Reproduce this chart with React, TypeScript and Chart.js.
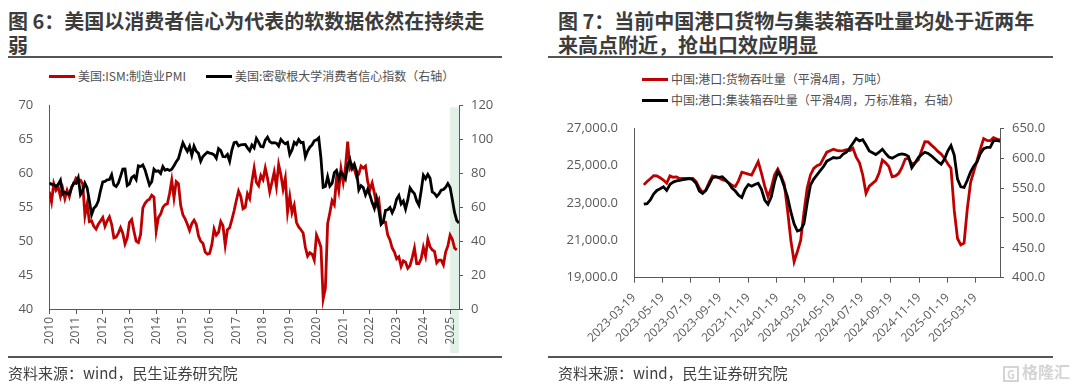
import React, { useEffect, useRef } from 'react';
import { Chart, registerables } from 'chart.js';
Chart.register(...registerables);

// ---------- Left chart data (monthly, from 2010-01) ----------
const pmiStartYear = 2010;
const pmi = [
  57.3, 55.8, 58.5, 57.5, 58.0, 56.6, 57.8, 56.3, 57.5, 56.6, 58.0, 58.5,
  59.3, 59.0, 59.0, 58.5, 53.8, 55.5, 52.9, 53.0, 52.2, 51.8, 52.5, 53.0,
  53.5, 52.2, 53.0, 53.6, 52.5, 50.5, 50.6, 51.2, 52.0, 51.2, 49.6, 50.5,
  52.8, 53.2, 51.5, 50.0, 49.8, 51.0, 54.9, 55.6, 56.0, 56.2, 56.8, 56.5,
  51.5, 53.5, 54.0, 55.0, 55.4, 55.5, 57.0, 59.0, 56.4, 58.8, 58.5, 55.3,
  53.9, 53.3, 52.5, 51.6, 52.6, 53.1, 52.5, 50.8, 50.0, 49.7, 48.4, 48.1,
  48.2, 49.5, 51.8, 50.9, 51.3, 52.9, 52.3, 49.4, 51.7, 52.0, 53.2, 54.5,
  56.0, 57.4, 56.6, 54.8, 55.0, 57.0, 56.3, 58.8, 60.8, 58.7, 58.2, 59.7,
  59.1, 60.8, 59.3, 57.3, 58.7, 60.2, 58.1, 61.3, 59.8, 57.7, 59.3, 54.3,
  56.6, 54.2, 55.3, 52.8, 52.1, 51.7, 51.2, 49.1, 47.8, 48.3, 48.1, 47.2,
  50.9, 50.1, 49.1, 41.5, 43.1, 52.6, 54.2, 56.0, 55.4, 59.3, 57.5, 60.7,
  58.7, 60.8, 64.7, 60.7, 61.2, 60.6, 59.5, 59.9, 61.1, 60.8, 61.1, 58.8,
  57.6, 58.6, 57.1, 55.4, 56.1, 53.0, 52.8, 52.8, 50.9, 50.2, 49.0, 48.4,
  47.4, 47.7, 46.3, 47.1, 46.9, 46.0, 46.4, 47.6, 49.0, 46.7, 46.7, 47.4,
  49.1, 47.8, 50.3, 49.2, 48.7, 48.5, 46.8, 47.2, 47.2, 46.5, 48.4, 49.3,
  50.9, 50.3, 49.0, 48.7,
];
const sentiment = [
  74.4, 73.6, 73.6, 72.2, 73.6, 76.0, 67.8, 68.9, 68.2, 67.7, 71.6, 74.5,
  74.2, 77.5, 67.5, 69.8, 74.3, 71.5, 63.7, 55.7, 59.4, 60.8, 63.7, 69.9,
  75.0, 75.3, 76.2, 76.4, 79.3, 73.2, 72.3, 74.3, 78.3, 82.6, 82.7, 72.9,
  73.8, 77.6, 78.6, 76.4, 84.5, 84.1, 85.1, 82.1, 77.5, 73.2, 75.1, 82.5,
  81.2, 81.6, 80.0, 84.1, 81.9, 82.5, 81.8, 82.5, 84.6, 86.9, 88.8, 93.6,
  98.1, 95.4, 93.0, 95.9, 90.7, 96.1, 93.1, 91.9, 87.2, 90.0, 91.3, 92.6,
  92.0, 91.7, 91.0, 89.0, 94.7, 93.5, 90.0, 89.8, 91.2, 87.2, 93.8, 98.2,
  98.5, 96.3, 96.9, 97.0, 97.1, 95.1, 93.4, 96.8, 95.1, 100.7, 98.5, 95.9,
  95.7, 99.7, 101.4, 98.8, 98.0, 98.2, 97.9, 96.2, 100.1, 98.6, 97.5, 98.3,
  91.2, 93.8, 98.4, 97.2, 100.0, 98.2, 98.4, 89.8, 93.2, 95.5, 96.8, 99.3,
  99.8, 101.0, 89.1, 71.8, 72.3, 78.1, 72.5, 74.1, 80.4, 81.8, 76.9, 80.7,
  79.0, 76.8, 84.9, 88.3, 82.9, 85.5, 81.2, 70.3, 72.8, 71.7, 67.4, 70.6,
  67.2, 62.8, 59.4, 65.2, 58.4, 50.0, 51.5, 58.2, 58.6, 59.9, 56.8, 59.7,
  64.9, 67.0, 62.0, 63.7, 59.0, 64.4, 71.5, 69.5, 68.1, 63.8, 61.3, 69.7,
  79.0, 76.9, 79.4, 77.2, 69.1, 68.2, 66.4, 67.9, 70.1, 70.5, 71.8, 74.0,
  71.7, 64.7, 57.0, 52.2, 50.8,
];
const yearLabels = ['2010', '2011', '2012', '2013', '2014', '2015', '2016', '2017', '2018', '2019', '2020', '2021', '2022', '2023', '2024', '2025'];
const highlightFromYear = 2025;

// ---------- Right chart data (weekly) ----------
const portTickDates = ['2023-03-19', '2023-05-19', '2023-07-19', '2023-09-19', '2023-11-19', '2024-01-19', '2024-03-19', '2024-05-19', '2024-07-19', '2024-09-19', '2024-11-19', '2025-01-19', '2025-03-19'];
const portFirstWeek = '2023-04-09';
const cargo = [
  23970, 24150, 24300, 24460, 24450, 24350, 24230, 24060, 24450, 24380,
  24400, 24300, 24320, 24320, 24320, 24320, 24150, 23800, 23560, 23700,
  24100, 24450, 24400, 24350, 24250, 24200, 24080, 23950, 23880, 24200,
  24650, 24600, 24550, 24500, 24850, 25210, 24600, 23900, 23340, 23800,
  24500, 24820, 24450, 24000, 22600, 21000, 19860, 20400, 21000, 22500,
  23800, 24500, 24850, 25000, 25070, 25400, 25720, 25800, 25880, 25820,
  25790, 25800, 25850, 25800, 25930, 25450, 25150, 24500, 23520, 23900,
  24050, 24200, 24600, 25300, 25150, 24950, 24400, 24450, 24580, 24900,
  25350, 25400, 25100, 25150, 25300, 25800, 26280, 26270, 26100, 25950,
  25760, 25620, 25400, 25100, 24860, 22600, 21100, 20760, 20850, 22700,
  24100, 24700, 25300, 25900, 26450, 26350, 26330, 26500, 26420, 26370,
];
const containers = [
  523, 524, 530, 540, 546, 549, 552, 546, 556, 560,
  562, 563, 564, 565, 566, 564, 558, 545, 541, 546,
  556, 567, 569, 568, 569, 564, 558, 550, 545, 538,
  534, 548, 556, 553, 556, 558, 548, 530, 523, 535,
  560, 578, 568, 552, 535, 510, 490, 478, 480, 490,
  525, 555, 565, 572, 579, 586, 595, 598, 601, 600,
  601, 607, 610, 617, 625, 633, 629, 631, 622, 612,
  609, 606, 610, 615, 608, 602, 600, 603, 606, 607,
  606, 603, 584, 592, 601, 606, 610, 608, 604, 599,
  594, 590, 598, 612, 621, 605, 565, 552, 551, 563,
  577, 587, 594, 608, 616, 618, 618, 629, 630, 628,
];

const RED = '#C00000';
const BLACK = '#000000';
const AXIS = '#595959';
const LABEL = '#595959';
const FONT = "'Open Sans', 'Noto Sans CJK SC', sans-serif";
const CJK = "'Noto Sans CJK SC', 'Open Sans', sans-serif";

const DAY = 86400000;
const weeksFrom = (a: string, b: string) => (Date.parse(b) - Date.parse(a)) / (7 * DAY);

const fixY = (w: number) => (s: any) => { s.width = w; s.paddingTop = 0; s.paddingBottom = 0; };
const fixX = (h: number) => (s: any) => { s.height = h; s.paddingLeft = 0; s.paddingRight = 0; };

function LeftChart() {
  const ref = useRef<HTMLCanvasElement>(null);
  useEffect(() => {
    const canvas = ref.current!;
    const bandPlugin = {
      id: 'band',
      beforeDraw(chart: any) {
        const { ctx, chartArea, scales } = chart;
        const x0 = scales.x.getPixelForValue(highlightFromYear);
        ctx.save();
        ctx.fillStyle = '#E2F1E7';
        ctx.fillRect(x0, chartArea.top + 1.5, chartArea.right - x0, 258 - chartArea.top - 1.5);
        ctx.restore();
      },
    };
    const xMax = pmiStartYear + (sentiment.length - 1) / 12;
    const chart = new Chart(canvas, {
      type: 'line',
      data: {
        datasets: [
          {
            label: '美国:ISM:制造业PMI',
            data: pmi.map((v, i) => ({ x: pmiStartYear + i / 12, y: v })),
            borderColor: RED,
            backgroundColor: RED,
            borderWidth: 2.8,
            pointRadius: 0,
            yAxisID: 'y',
            order: 1,
          },
          {
            label: '美国:密歇根大学消费者信心指数（右轴）',
            data: sentiment.map((v, i) => ({ x: pmiStartYear + i / 12, y: v })),
            borderColor: BLACK,
            backgroundColor: BLACK,
            borderWidth: 2.8,
            pointRadius: 0,
            yAxisID: 'y1',
            order: 0,
          },
        ],
      },
      options: {
        animation: false,
        responsive: false,
        devicePixelRatio: 1,
        layout: { padding: { top: 10.7, left: 0, right: 0, bottom: 0 } },
        plugins: { legend: { display: false }, tooltip: { enabled: false } },
        scales: {
          x: {
            type: 'linear',
            min: pmiStartYear,
            max: xMax,
            afterBuildTicks: (s: any) => { s.ticks = yearLabels.map((l) => ({ value: Number(l) })); },
            afterFit: fixX(51),
            ticks: {
              autoSkip: false, maxRotation: 90, minRotation: 90, padding: 3,
              color: LABEL, font: { size: 12, family: FONT },
              callback: (_v: any, i: number) => yearLabels[i],
            },
            grid: { drawOnChartArea: false, drawTicks: true, tickLength: 5, color: AXIS },
            border: { color: AXIS, width: 1 },
          },
          y: {
            position: 'left', min: 40, max: 70,
            afterFit: fixY(49.3),
            ticks: { stepSize: 5, padding: 16, color: LABEL, font: { size: 13, family: FONT } },
            grid: { display: false, drawTicks: false },
            border: { color: AXIS, width: 1 },
          },
          y1: {
            position: 'right', min: 0, max: 120,
            afterFit: fixY(81),
            ticks: { stepSize: 20, padding: 8, color: LABEL, font: { size: 13, family: FONT } },
            grid: { drawOnChartArea: false, drawTicks: true, tickLength: 4, color: AXIS },
            border: { color: AXIS, width: 1 },
          },
        },
      },
      plugins: [bandPlugin],
    } as any);
    return () => chart.destroy();
  }, []);
  return <canvas ref={ref} width={540} height={265} style={{ position: 'absolute', left: 0, top: 95, width: 540, height: 265 }} />;
}

function RightChart() {
  const ref = useRef<HTMLCanvasElement>(null);
  useEffect(() => {
    const canvas = ref.current!;
    const origin = portTickDates[0];
    const start = weeksFrom(origin, portFirstWeek);
    const tickVals = portTickDates.map((d) => weeksFrom(origin, d));
    const chart = new Chart(canvas, {
      type: 'line',
      data: {
        datasets: [
          {
            label: '中国:港口:货物吞吐量（平滑4周，万吨）',
            data: cargo.map((v, i) => ({ x: start + i, y: v })),
            borderColor: RED, backgroundColor: RED, borderWidth: 2.8, pointRadius: 0,
            yAxisID: 'y', order: 1,
          },
          {
            label: '中国:港口:集装箱吞吐量（平滑4周，万标准箱，右轴）',
            data: containers.map((v, i) => ({ x: start + i, y: v })),
            borderColor: BLACK, backgroundColor: BLACK, borderWidth: 2.8, pointRadius: 0,
            yAxisID: 'y1', order: 0,
          },
        ],
      },
      options: {
        animation: false,
        responsive: false,
        devicePixelRatio: 1,
        layout: { padding: { top: 13.3, left: 0, right: 0, bottom: 0 } },
        plugins: { legend: { display: false }, tooltip: { enabled: false } },
        scales: {
          x: {
            type: 'linear',
            min: 0,
            max: start + cargo.length - 1,
            afterBuildTicks: (s: any) => { s.ticks = tickVals.map((v) => ({ value: v })); },
            afterFit: fixX(77.3),
            ticks: {
              autoSkip: false, maxRotation: 45, minRotation: 45, padding: 8,
              color: LABEL, font: { size: 12, family: FONT },
              callback: (_v: any, i: number) => portTickDates[i],
            },
            grid: { drawOnChartArea: false, drawTicks: true, tickLength: 5, color: AXIS },
            border: { color: AXIS, width: 1 },
          },
          y: {
            position: 'left', min: 19000, max: 27000,
            afterFit: fixY(94),
            ticks: {
              stepSize: 2000, padding: 16, color: LABEL, font: { size: 13, family: FONT },
              callback: (v: any) => Number(v).toLocaleString('en-US', { minimumFractionDigits: 1, maximumFractionDigits: 1 }),
            },
            grid: { display: false, drawTicks: false },
            border: { color: AXIS, width: 1 },
          },
          y1: {
            position: 'right', min: 400, max: 650,
            afterFit: fixY(80),
            ticks: {
              stepSize: 50, padding: 8, color: LABEL, font: { size: 13, family: FONT },
              callback: (v: any) => Number(v).toFixed(1),
            },
            grid: { drawOnChartArea: false, drawTicks: true, tickLength: 4, color: AXIS },
            border: { color: AXIS, width: 1 },
          },
        },
      },
    } as any);
    return () => chart.destroy();
  }, []);
  return <canvas ref={ref} width={540} height={240} style={{ position: 'absolute', left: 540, top: 115, width: 540, height: 240 }} />;
}

const abs = (s: React.CSSProperties): React.CSSProperties => ({ position: 'absolute', ...s });

function LegendItem({ color, text, left, top }: { color: string; text: string; left: number; top: number }) {
  return (
    <div style={abs({ left, top: top - 9, height: 18, display: 'flex', alignItems: 'center', whiteSpace: 'nowrap' })}>
      <div style={{ width: 26, height: 3, background: color, marginRight: 3 }} />
      <span style={{ fontFamily: CJK, fontSize: 12, color: '#505050', lineHeight: '18px' }}>{text}</span>
    </div>
  );
}

export default function App() {
  const titleStyle: React.CSSProperties = { fontFamily: CJK, fontWeight: 700, fontSize: 20, lineHeight: '24px', color: '#3c3c3c', whiteSpace: 'nowrap' };
  const srcStyle: React.CSSProperties = { fontFamily: CJK, fontSize: 15, lineHeight: '20px', color: '#404040', whiteSpace: 'nowrap' };
  return (
    <div style={abs({ left: 0, top: 0, width: 1080, height: 386, background: '#fff', overflow: 'hidden' })}>
      {/* Left panel */}
      <div style={abs({ left: 8, top: 9, ...titleStyle })}>
        <div>图 6：美国以消费者信心为代表的软数据依然在持续走</div>
        <div>弱</div>
      </div>
      <div style={abs({ left: 8, top: 56, width: 494, height: 2, background: '#555' })} />
      <LegendItem color={RED} text="美国:ISM:制造业PMI" left={49} top={76} />
      <LegendItem color={BLACK} text="美国:密歇根大学消费者信心指数（右轴）" left={206} top={76} />
      <LeftChart />
      <div style={abs({ left: 8, top: 356, width: 494, height: 2, background: '#555' })} />
      <div style={abs({ left: 8, top: 363, ...srcStyle })}>资料来源：wind，民生证券研究院</div>

      {/* Right panel */}
      <div style={abs({ left: 558, top: 9, ...titleStyle })}>
        <div>图 7：当前中国港口货物与集装箱吞吐量均处于近两年</div>
        <div>来高点附近，抢出口效应明显</div>
      </div>
      <div style={abs({ left: 548, top: 56, width: 505, height: 2, background: '#555' })} />
      <LegendItem color={RED} text="中国:港口:货物吞吐量（平滑4周，万吨）" left={642} top={79} />
      <LegendItem color={BLACK} text="中国:港口:集装箱吞吐量（平滑4周，万标准箱，右轴）" left={642} top={100} />
      <RightChart />
      <div style={abs({ left: 548, top: 356, width: 505, height: 2, background: '#555' })} />
      <div style={abs({ left: 558, top: 363, ...srcStyle })}>资料来源：wind，民生证券研究院</div>
      <div style={abs({ left: 1003, top: 361, fontFamily: CJK, fontSize: 16, fontWeight: 700, color: '#d4d4d4', lineHeight: '20px', whiteSpace: 'nowrap' })}>
        <span style={{ display: 'inline-block', border: '2px solid #d4d4d4', width: 12, height: 12, fontSize: 11, lineHeight: '12px', textAlign: 'center', marginRight: 3, verticalAlign: 'middle' }}>G</span>格隆汇
      </div>
    </div>
  );
}
